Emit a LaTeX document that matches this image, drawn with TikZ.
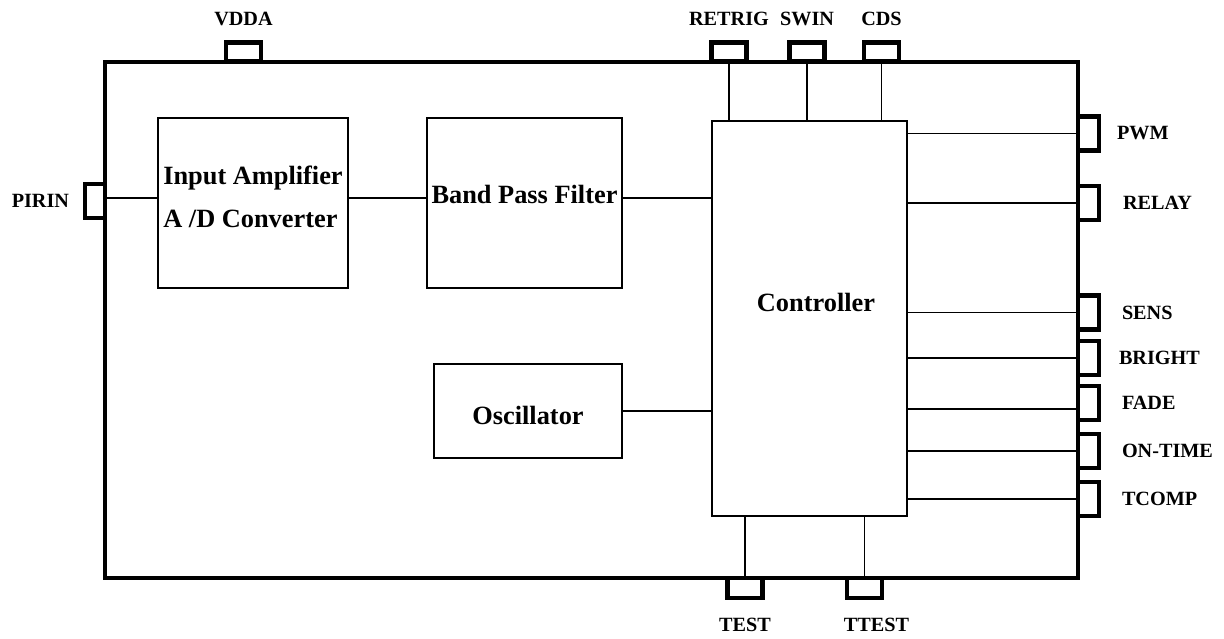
\documentclass[tikz,border=0pt]{standalone}
\usepackage{fontspec}
\setmainfont{Liberation Serif}
\begin{document}
\begin{tikzpicture}[x=0.02cm,y=-0.02cm,
  chip/.style={draw,line width=2.3pt,inner sep=0pt,minimum width=19.46cm,minimum height=10.33cm},
  block/.style={draw,line width=1.3pt,inner sep=0pt},
  blocktext/.style={font=\bfseries\fontsize{15}{24.4}\selectfont,align=left,inner sep=0pt},
  pintop/.style={draw,line width=2.3pt,inner sep=0pt,outer sep=0pt,minimum width=0.7cm,minimum height=0.38cm},
  pinside/.style={draw,line width=2.3pt,inner sep=0pt,outer sep=0pt,minimum width=0.42cm,minimum height=0.68cm},
  pinname/.style={font=\bfseries\fontsize{11.5}{13}\selectfont,inner sep=0pt,outer sep=0pt},
  wire/.style={line width=1.1pt}]
  \useasboundingbox (0,0) rectangle (1224,639);

  % package outline and blocks
  \node[chip] (chip) at (591.5,319.75) {};
  \node[block,minimum width=3.8cm,minimum height=3.4cm] (inp) at (253,203) {};
  \node[block,minimum width=3.9cm,minimum height=3.4cm] (bpf) at (524.5,203) {};
  \node[block,minimum width=3.76cm,minimum height=1.88cm] (osc) at (528,411) {};
  \node[block,minimum width=3.9cm,minimum height=7.9cm] (ctrl) at (809.5,318.5) {};

  \node[blocktext] (inptext) at ([yshift=0.13cm]inp.center) {Input Amplifier\\A /D Converter};
  \node[blocktext] (bpftext) at ([yshift=0.18cm]bpf.center) {Band Pass Filter};
  \node[blocktext] (osctext) at ([yshift=-0.08cm]osc.center) {Oscillator};
  \node[blocktext] (ctrltext) at ([xshift=0.13cm,yshift=0.32cm]ctrl.center) {Controller};

  % pins
  \node[pintop,anchor=south,label={[pinname,label distance=0.34cm]above:VDDA}] (vdda) at (243.5,61.5) {};
  \foreach \pin/\x/\txt in {retrig/729/RETRIG, swin/807/SWIN, cds/881.5/CDS} {
    \node[pintop,anchor=south,label={[pinname,label distance=0.34cm]above:\txt}] (\pin) at (\x,61.5) {};
    \draw[wire] (\pin.south) -- (\pin.south |- ctrl.north);
  }
  \foreach \pin/\y/\txt/\d in {pwm/133.5/PWM/0.36, relay/203/RELAY/0.48, sens/312.5/SENS/0.46,
      bright/358/BRIGHT/0.4, fade/403/FADE/0.46, ontime/451/ON-TIME/0.46, tcomp/499/TCOMP/0.46}
    \node[pinside,anchor=west,label={[pinname,label distance=\d cm]right:\txt}] (\pin) at (1078,\y) {};
  \foreach \pin/\x/\txt/\s in {test/745/TEST/0, ttest/864.5/TTEST/0.24} {
    \node[pintop,minimum height=0.4cm,anchor=north,label={[pinname,label distance=0.4cm,xshift=\s cm]below:\txt}] (\pin) at (\x,578) {};
    \draw[wire] (\pin.north) -- (\pin.north |- ctrl.south);
  }
  \node[pinside,minimum width=0.4cm,anchor=east,label={[pinname,label distance=0.32cm]left:PIRIN}] (pirin) at (105,201) {};

  % signal wires
  \coordinate (sig) at (0,198);
  \draw[wire] (pirin.east |- sig) -- (inp.west |- sig);
  \draw[wire] (inp.east |- sig) -- (bpf.west |- sig);
  \draw[wire] (bpf.east |- sig) -- (ctrl.west |- sig);
  \draw[wire] (osc.east) -- (osc.east -| ctrl.west);
  \foreach \pin in {pwm,relay,sens,bright,ontime,tcomp}
    \draw[wire] (\pin.west -| ctrl.east) -- (\pin.west);
  \coordinate (fadein) at ([yshift=-0.12cm]fade.west);
  \draw[wire] (fadein -| ctrl.east) -- (fadein);
\end{tikzpicture}
\end{document}
